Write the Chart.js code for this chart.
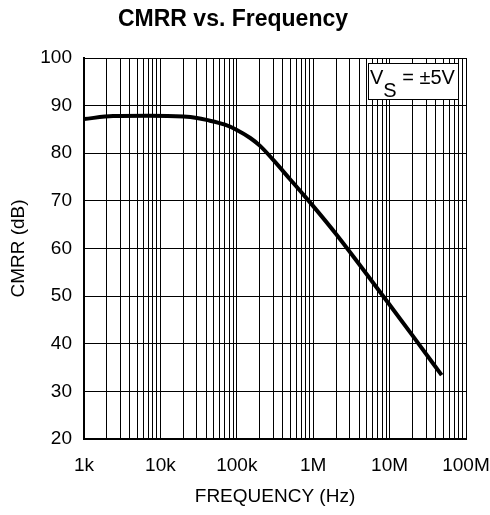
<!DOCTYPE html>
<html>
<head>
<meta charset="utf-8">
<script src="https://cdn.jsdelivr.net/npm/chart.js@4/dist/chart.umd.min.js"></script>
<style>
  html, body { margin: 0; padding: 0; background: #fff; }
  #wrap { width: 490px; height: 515px; }
</style>
</head>
<body>
<div id="wrap"><canvas id="chart" width="490" height="515"></canvas></div>
<script>
// Data
const freqHz = [1e3, 2.4e3, 7e3, 20e3, 30e3, 40e3, 70e3, 100e3, 150e3, 200e3, 300e3, 500e3, 700e3, 1e6, 2e6, 4e6, 10e6, 20e6, 48e6];
const cmrrDb = [87.2, 87.8, 87.9, 87.7, 87.4, 87.0, 86.0, 84.9, 83.2, 81.6, 78.6, 74.5, 71.8, 68.9, 63.0, 56.7, 48.2, 41.7, 33.4];

const xDecades = [1e3, 1e4, 1e5, 1e6, 1e7, 1e8];
const xTickLabels = ["1k", "10k", "100k", "1M", "10M", "100M"];
const yTicks = [20, 30, 40, 50, 60, 70, 80, 90, 100];

const FONT = "'Liberation Sans', Arial, Helvetica, sans-serif";

// Label box in the top right corner
const vsBox = {
  id: "vsBox",
  afterDatasetsDraw(chart) {
    const { ctx, chartArea } = chart;
    const x = chartArea.right - 98, y = chartArea.top + 5, w = 90, h = 36;
    ctx.save();
    ctx.fillStyle = "#fff";
    ctx.fillRect(x, y, w, h);
    ctx.strokeStyle = "#000";
    ctx.lineWidth = 1;
    ctx.strokeRect(x + 0.5, y + 0.5, w, h);
    ctx.fillStyle = "#000";
    ctx.textBaseline = "alphabetic";
    ctx.font = "20px " + FONT;
    let tx = x + 2;
    ctx.fillText("V", tx, y + 21);
    tx += ctx.measureText("V").width;
    ctx.fillText("S", tx, y + 34);
    tx += ctx.measureText("S").width;
    ctx.fillText(" = \u00b15V", tx, y + 21);
    ctx.restore();
  }
};

const ctx = document.getElementById("chart").getContext("2d");
new Chart(ctx, {
  type: "line",
  data: {
    datasets: [{
      data: freqHz.map((f, i) => ({ x: f, y: cmrrDb[i] })),
      borderColor: "#000",
      borderWidth: 4,
      pointRadius: 0,
      fill: false,
      cubicInterpolationMode: "monotone",
    }]
  },
  options: {
    responsive: false,
    animation: false,
    layout: { padding: { left: 0, right: 24, top: 0, bottom: 0 } },
    plugins: {
      legend: { display: false },
      tooltip: { enabled: false },
      title: {
        display: true,
        text: "CMRR vs. Frequency",
        color: "#000",
        font: { family: FONT, size: 23, weight: "bold" },
        padding: { top: 5.5, bottom: 24.9 }
      }
    },
    scales: {
      x: {
        type: "logarithmic",
        min: 1e3,
        max: 1e8,
        afterBuildTicks: (scale) => {
          const t = [];
          xDecades.forEach((d, i) => {
            if (i === xDecades.length - 1) { t.push({ value: d }); return; }
            for (let m = 1; m < 10; m++) t.push({ value: m * d });
          });
          scale.ticks = t;
        },
        afterFit: (scale) => {
          scale.height = 76;
          scale.paddingLeft = 0;
          scale.paddingRight = 0;
        },
        grid: { color: "#000", lineWidth: 1, drawTicks: false },
        border: { color: "#000", width: 2 },
        ticks: {
          color: "#000",
          font: { family: FONT, size: 19 },
          padding: 15,
          autoSkip: false,
          maxRotation: 0,
          callback: (v) => {
            const i = xDecades.indexOf(v);
            return i >= 0 ? xTickLabels[i] : "";
          }
        },
        title: {
          display: true,
          text: "FREQUENCY (Hz)",
          color: "#000",
          font: { family: FONT, size: 19 },
          padding: { top: 6.5, bottom: 6.5 }
        }
      },
      y: {
        min: 20,
        max: 100,
        afterBuildTicks: (scale) => { scale.ticks = yTicks.map(v => ({ value: v })); },
        afterFit: (scale) => { scale.width = 84; },
        grid: { color: "#000", lineWidth: 1, drawTicks: false },
        border: { color: "#000", width: 2 },
        ticks: {
          color: "#000",
          font: { family: FONT, size: 19 },
          padding: 12
        },
        title: {
          display: true,
          text: "CMRR (dB)",
          color: "#000",
          font: { family: FONT, size: 19 },
          padding: { top: 7, bottom: 7 }
        }
      }
    }
  },
  plugins: [vsBox]
});
</script>
</body>
</html>
